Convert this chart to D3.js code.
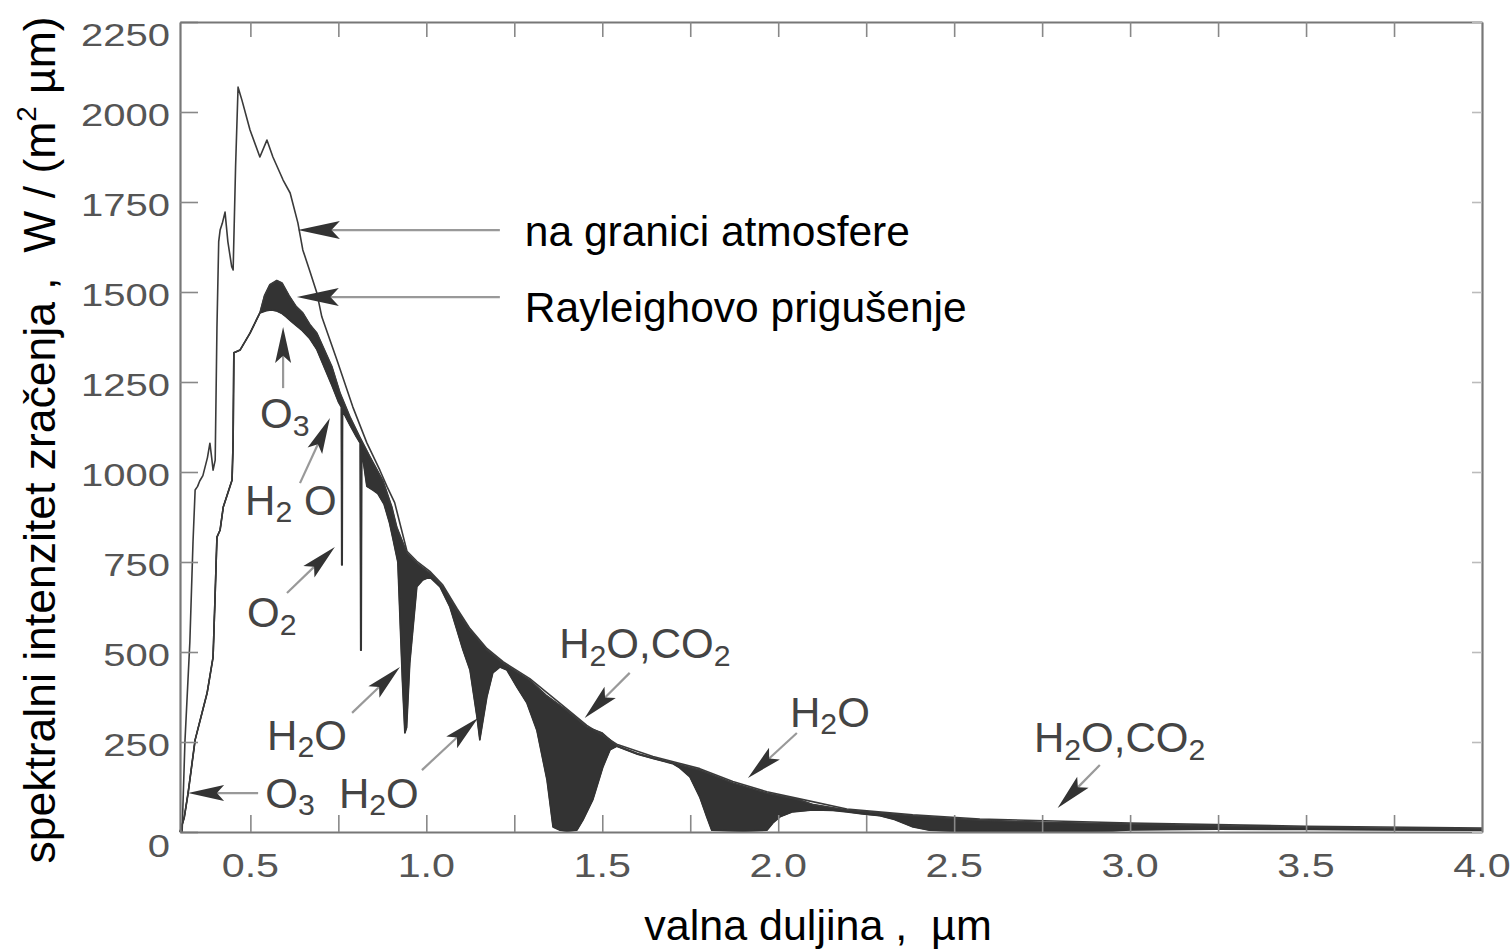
<!DOCTYPE html>
<html><head><meta charset="utf-8">
<script src="https://cdn.jsdelivr.net/npm/d3@7"></script>
<style>
body{margin:0;background:#fff}
text{font-family:"Liberation Sans",Arial,Helvetica,sans-serif;white-space:pre}
</style>
</head><body>
<svg id="chart" width="1510" height="952"></svg>
<script>
// ---------- data (wavelength µm, W/(m² µm)) ----------
const toaSeries = [
 [0.300,0],[0.306,0],[0.314,250],[0.328,528],[0.337,806],[0.343,950],[0.350,960],[0.356,975],
 [0.365,990],[0.378,1040],[0.385,1080],[0.390,1040],[0.394,1005],[0.400,1033],[0.405,1400],
 [0.410,1640],[0.414,1672],[0.420,1690],[0.428,1722],[0.436,1640],[0.447,1570],[0.451,1561],
 [0.458,1850],[0.465,2069],[0.476,2033],[0.499,1950],[0.527,1875],[0.547,1922],[0.564,1875],
 [0.593,1811],[0.613,1775],[0.635,1692],[0.649,1617],[0.670,1555],[0.689,1497],[0.703,1431],
 [0.746,1311],[0.791,1181],[0.831,1081],[0.868,1005],[0.888,960],[0.910,915],[0.945,780],
 [0.973,752],[1.010,724],[1.047,686],[1.087,621],[1.124,565],[1.172,510],[1.218,473],
 [1.294,426],[1.400,341],[1.456,296],[1.541,244],[1.644,210],[1.777,176],[1.871,140],
 [1.968,112],[2.061,92],[2.195,64],[2.382,48],[2.573,36],[3.000,25],[3.500,16],[4.000,11]
];
const rayleighSeries = [
 [0.300,0],[0.312,40],[0.323,108],[0.343,256],[0.377,386],[0.394,486],[0.400,664],[0.405,819],
 [0.414,839],[0.423,903],[0.448,978],[0.451,1089],[0.453,1331],[0.471,1339],[0.499,1386],
 [0.527,1442],[0.540,1490],[0.555,1520],[0.575,1532],[0.590,1525],[0.610,1490],[0.630,1460],
 [0.649,1442],[0.669,1410],[0.689,1386],[0.710,1340],[0.732,1292],[0.755,1219],[0.783,1153],
 [0.811,1097],[0.840,1042],[0.877,975],[0.902,903],[0.916,847],[0.945,775],[0.973,747],
 [1.010,719],[1.047,681],[1.087,617],[1.124,561],[1.172,506],[1.218,469],[1.294,422],
 [1.340,380],[1.400,337],[1.456,292],[1.500,275],[1.541,240],[1.600,218],[1.644,206],
 [1.700,192],[1.777,172],[1.871,136],[1.968,108],[2.061,89],[2.100,76],[2.195,61],[2.289,53],
 [2.382,45],[2.479,39],[2.573,33],[2.750,27],[3.000,22],[3.250,17],[3.500,13],[3.750,10],[4.000,8]
];
const groundSeries = [
 [0.300,0],[0.312,40],[0.323,108],[0.343,256],[0.377,386],[0.394,486],[0.400,664],[0.405,819],
 [0.414,839],[0.423,903],[0.448,978],[0.451,1089],[0.453,1331],[0.471,1339],[0.499,1386],
 [0.527,1442],[0.545,1448],[0.560,1450],[0.575,1447],[0.590,1440],[0.600,1432],[0.621,1414],
 [0.645,1395],[0.669,1370],[0.689,1340],[0.706,1300],[0.732,1240],[0.750,1195],[0.7585,1180],
 [0.7595,742],[0.7610,742],[0.762,1170],[0.783,1130],[0.800,1100],[0.812,1080],[0.8135,505],
 [0.8150,505],[0.8165,1060],[0.831,960],[0.848,950],[0.862,940],[0.880,910],[0.895,860],
 [0.905,815],[0.919,750],[0.932,420],[0.939,275],[0.944,290],[0.953,469],[0.973,681],
 [0.990,700],[1.010,708],[1.039,681],[1.067,625],[1.087,561],[1.104,506],[1.124,450],
 [1.144,319],[1.152,256],[1.172,375],[1.189,442],[1.209,458],[1.229,450],[1.257,403],
 [1.286,358],[1.314,283],[1.343,144],[1.360,14],[1.380,5],[1.400,2],[1.428,5],[1.445,33],
 [1.473,89],[1.502,181],[1.522,228],[1.541,238],[1.600,216],[1.644,204],[1.700,190],
 [1.720,178],[1.749,153],[1.777,97],[1.797,42],[1.811,5],[1.900,2],[1.968,5],[1.985,25],
 [2.005,42],[2.041,56],[2.098,61],[2.155,60],[2.195,56],[2.240,50],[2.289,45],[2.330,35],
 [2.380,15],[2.430,5],[2.500,2],[2.750,1],[2.950,3],[3.000,6],[3.250,8],[3.500,7],[3.750,6],[4.000,5]
];
const yTickValues = [0,250,500,750,1000,1250,1500,1750,2000,2250];
const xTickValues = [0.5,0.75,1.0,1.25,1.5,1.75,2.0,2.25,2.5,2.75,3.0,3.25,3.5,3.75];
const xLabelValues = [0.5,1.0,1.5,2.0,2.5,3.0,3.5,4.0];

// absorption annotations: label with {sub}, label anchor, arrow tail & tip (data coords)
const absorptionNotes = [
 {text:"O{3}",   at:[0.598,1122], tail:[0.593,1233], tip:[0.593,1403]},
 {text:"H{2} O", at:[0.615,881],  tail:[0.641,969],  tip:[0.726,1150]},
 {text:"O{2}",   at:[0.561,569],  tail:[0.604,664],  tip:[0.740,792]},
 {text:"H{2}O",  at:[0.661,228],  tail:[0.789,331],  tip:[0.925,458]},
 {text:"H{2}O",  at:[0.865,67],   tail:[0.9875,172], tip:[1.147,317]},
 {text:"H{2}O,CO{2}", at:[1.621,483], tail:[1.578,442], tip:[1.450,317]},
 {text:"H{2}O",  at:[2.147,292],  tail:[2.053,275],  tip:[1.914,150]},
 {text:"H{2}O,CO{2}", at:[2.970,222], tail:[2.914,186], tip:[2.794,67]},
 {text:"O{3}",   at:[0.6125,67],  tail:[0.522,108],  tip:[0.323,108]}
];
const curveNotes = [
 {text:"na granici atmosfere",   at:[1.28,1628], tail:[1.209,1672], tip:[0.635,1672]},
 {text:"Rayleighovo prigušenje", at:[1.28,1417], tail:[1.209,1486], tip:[0.632,1486]}
];

// ---------- scales ----------
const svg = d3.select("#chart");
const x = d3.scaleLinear().domain([0.3,4.0]).range([180,1482]);
const y = d3.scaleLinear().domain([0,2250]).range([832,22]);

const line = d3.line().x(d=>x(d[0])).y(d=>y(d[1]));

// dark absorption fill between Rayleigh curve and ground curve
const poly = rayleighSeries.concat(groundSeries.slice().reverse());
svg.append("path").attr("d", line(poly)+"Z")
  .attr("fill","#333").attr("stroke","#333").attr("stroke-width",1);

svg.append("path").attr("d", line(groundSeries)).attr("fill","none")
  .attr("stroke","#333").attr("stroke-width",1.6).attr("stroke-linejoin","round");
svg.append("path").attr("d", line(rayleighSeries)).attr("fill","none")
  .attr("stroke","#3a3a3a").attr("stroke-width",1.6).attr("stroke-linejoin","round");
svg.append("path").attr("d", line(toaSeries)).attr("fill","none")
  .attr("stroke","#3a3a3a").attr("stroke-width",1.6).attr("stroke-linejoin","round");

// ---------- axes ----------
const axisColor = "#777";
function styleAxis(g){
  g.select(".domain").attr("stroke",axisColor).attr("stroke-width",2.2);
  g.selectAll(".tick line").attr("stroke","#888").attr("stroke-width",1.6);
  g.selectAll(".tick text").attr("fill","#555").attr("font-size",32)
   .attr("font-family","'Liberation Sans',Arial,sans-serif");
}
const gl = svg.append("g").attr("transform","translate(180,0)")
  .call(d3.axisLeft(y).tickValues(yTickValues).tickSize(-18).tickSizeOuter(0)
        .tickPadding(10).tickFormat(d3.format("d")));
styleAxis(gl);
gl.selectAll(".tick text").attr("dy",d=> d===2250 ? "0.72em" : d===0 ? "0.75em" : "0.42em");

const gb = svg.append("g").attr("transform","translate(0,832)")
  .call(d3.axisBottom(x).tickValues(xTickValues).tickSize(-17).tickSizeOuter(0).tickFormat(()=>""));
styleAxis(gb);
// x tick labels (include 4.0 at frame edge)
svg.append("g").attr("class","xlabels").selectAll("text").data(xLabelValues).join("text")
  .attr("x",d=>x(d)).attr("y",877).attr("text-anchor","middle")
  .attr("fill","#555").attr("font-size",33).text(d=>d3.format(".1f")(d));

const gt = svg.append("g").attr("transform","translate(0,22)")
  .call(d3.axisTop(x).tickValues(xTickValues).tickSize(-15).tickSizeOuter(0).tickFormat(""));
styleAxis(gt);
const gr = svg.append("g").attr("transform","translate(1482,0)")
  .call(d3.axisRight(y).tickValues(yTickValues).tickSize(-10).tickSizeOuter(0).tickFormat(""));
styleAxis(gr);
gr.selectAll(".tick line").attr("stroke","#bbb");

// stretch scanned-looking tick labels horizontally
svg.selectAll("text").each(function(){
  if(!this.textContent) return;
  const w = this.getComputedTextLength();
  d3.select(this).attr("textLength", w*1.25).attr("lengthAdjust","spacingAndGlyphs");
});

// ---------- arrows ----------
function arrow(tail, tip, L, W){
  const x1=x(tail[0]), y1=y(tail[1]), x2=x(tip[0]), y2=y(tip[1]);
  const dx=x1-x2, dy=y1-y2, len=Math.hypot(dx,dy);
  const ux=dx/len, uy=dy/len, nx=-uy, ny=ux;
  const bx=x2+ux*L, by=y2+uy*L, mx=x2+ux*L*0.8, my=y2+uy*L*0.8;
  svg.append("line").attr("x1",x1).attr("y1",y1).attr("x2",mx).attr("y2",my)
    .attr("stroke","#999").attr("stroke-width",2.2);
  svg.append("path")
    .attr("d",`M${x2},${y2}L${bx+nx*W},${by+ny*W}L${mx},${my}L${bx-nx*W},${by-ny*W}Z`)
    .attr("fill","#333");
}
function rich(sel, str){
  const parts = str.split(/(\{[^}]*\})/).filter(s=>s.length);
  let prevSub = false;
  parts.forEach(p=>{
    if(p[0]==="{"){
      sel.append("tspan").attr("font-size","0.72em").attr("dy","0.25em").text(p.slice(1,-1));
      prevSub = true;
    } else {
      sel.append("tspan").attr("dy", prevSub ? "-0.18em" : null).text(p);
      prevSub = false;
    }
  });
}
absorptionNotes.forEach(n=>{
  arrow(n.tail, n.tip, 36, 8);
  const t = svg.append("text").attr("x",x(n.at[0])).attr("y",y(n.at[1]))
    .attr("text-anchor","middle").attr("fill","#444").attr("font-size",42);
  rich(t, n.text);
});
curveNotes.forEach(n=>{
  arrow(n.tail, n.tip, 42, 9);
  svg.append("text").attr("x",x(n.at[0])).attr("y",y(n.at[1]))
    .attr("fill","#000").attr("font-size",42.5).text(n.text);
});

// ---------- axis titles ----------
const yt = svg.append("text").attr("transform","translate(55,440) rotate(-90)")
  .attr("text-anchor","middle").attr("font-size",44.5).attr("fill","#000");
yt.append("tspan").text("spektralni intenzitet zračenja ,  W / (m");
yt.append("tspan").attr("font-size","0.62em").attr("dy","-0.7em").text("2");
yt.append("tspan").attr("dy","0.43em").text(" µm)");

svg.append("text").attr("x",818).attr("y",940).attr("text-anchor","middle")
  .attr("font-size",43).attr("fill","#000").text("valna duljina ,  µm");
</script>
</body></html>
